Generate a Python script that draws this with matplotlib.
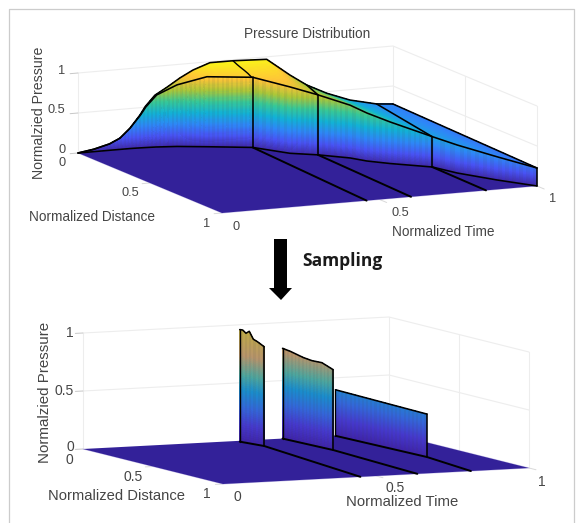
import numpy as np
import matplotlib
matplotlib.use("Agg")
import matplotlib.pyplot as plt
from matplotlib.colors import LinearSegmentedColormap
from matplotlib.lines import Line2D
from matplotlib.patches import Polygon
from matplotlib.transforms import Affine2D

plt.rcParams['font.family'] = ['Liberation Sans', 'DejaVu Sans']

# ---- Data: upper chart ----------------------------------------------------
front_t = [0, .05, .10, .133, .165, .197, .213, .245, .302, .379, .495, .556, .62, .685, .71, .755, .844, .872, .933, 1]
front_d = [0, 0, 0, 0, 0, .003, .005, .01, .027, .066, .13, .255, .31, .391, .453, .515, .613, .726, .87, 1]
front_z = [0, .03, .08, .14, .254, .41, .507, .65, .77, .875, .877, .83, .75, .66, .60, .52, .38, .35, .29, .225]
back_t = [0, .05, .10, .133, .165, .197, .213, .244, .282, .324, .365, .419, .492, .599, .673, .726, .79, .863, .948, 1]
back_z = [0, .03, .08, .14, .254, .41, .507, .64, .726, .83, .914, .988, .987, .969, .747, .605, .48, .371, .293, .275]
ruling_front_t = [0, .495, .62, .844, 1]
ruling_back_t = [0, .492, .726, .948, 1]
sample_front_t = [.495, .62, .844]
sample_front_d = [.13, .31, .613]
sample_front_z = [.877, .75, .38]
sample_back_t = [.492, .726, .948]
sample_back_z = [.987, .605, .293]
sample_end_t = [.459, .60, .838]
wavy_d = [0, .03, .05, .08, .105, .13]
wavy_z = [.987, .96, .945, .925, .905, .877]

# ---- Data: lower chart ----------------------------------------------------
wall1_d = [.02, .036, .054, .072, .094, .116, .153]
wall1_z = [.966, .967, .944, .966, .904, .889, .856]
wall2_d = [0, .052, .137, .194, .259, .333]
wall2_z = [.778, .767, .739, .729, .731, .693]
wall3_d = [0, .614]
wall3_z = [.397, .37]
wall_t_start = [.503, .652, .825]
wall_t_stop = [.522, .665, .843]
wall_end_t = [.449, .635, .81]

# ---- Labels ---------------------------------------------------------------
title = 'Pressure Distribution'
xlabel = 'Normalized Time'
ylabel = 'Normalized Distance'
zlabel = 'Normalzied Pressure'
annotation = 'Sampling'

# ---- Style ----------------------------------------------------------------
W, H = 581, 523
FLOOR = (0.20, 0.13, 0.60)
GRID = (0.93, 0.93, 0.93)
TEXT = (0.27, 0.27, 0.27)
parula = LinearSegmentedColormap.from_list('parula', [
    (0.2422, 0.1504, 0.6603), (0.2810, 0.3228, 0.9579), (0.1786, 0.5289, 0.9682),
    (0.0689, 0.6948, 0.8394), (0.2161, 0.7843, 0.5923), (0.6720, 0.7793, 0.2227),
    (0.9970, 0.7659, 0.2199), (0.9769, 0.9839, 0.0805)])
muted = LinearSegmentedColormap.from_list('muted', [
    (0, (0.24, 0.13, 0.65)), (.15, (0.27, 0.22, 0.80)), (.30, (0.20, 0.40, 0.85)),
    (.45, (0.10, 0.55, 0.80)), (.58, (0.30, 0.65, 0.62)), (.75, (0.72, 0.58, 0.42)),
    (1, (0.75, 0.68, 0.25))])

PX = Affine2D().scale(1, -1).translate(0, H)
fig = plt.figure(figsize=(W / 100, H / 100), dpi=100, facecolor='white')


def make_axes(origin, tvec, dvec, zscale):
    """3D axes with a parallel camera calibrated on the box corners (pixels)."""
    ax = fig.add_axes([0, (H - W) / 2 / H, 1, W / H], projection='3d')
    ax.set_axis_off()
    ax.patch.set_alpha(0)
    ax.computed_zorder = False
    cam = np.array([[tvec[0], dvec[0], 0, origin[0]],
                    [tvec[1], dvec[1], -zscale, origin[1]],
                    [0.2, -1, -0.3, -3],
                    [0, 0, 0, 1]], float)

    def get_proj():
        inv = ax.transData.inverted()
        p0, px, py = inv.transform(PX.transform([(0, 0), (1, 0), (0, 1)]))
        aff = np.eye(4)
        aff[0, :2] = px[0] - p0[0], py[0] - p0[0]
        aff[1, :2] = px[1] - p0[1], py[1] - p0[1]
        aff[0, 3], aff[1, 3] = p0
        return aff @ cam

    ax.get_proj = get_proj
    return ax


def line(ax, t, d, z, color='black', lw=1.15, zorder=10):
    ax.plot(t, d, z, color=color, lw=lw, zorder=zorder, solid_capstyle='round')


def box(ax):
    for z in (0.5, 1):
        line(ax, [0, 1, 1], [0, 0, 1], [z, z, z], GRID, .8, 0.5)
    for t, d in ((0, 0), (1, 0), (1, .5), (1, 1)):
        line(ax, [t, t], [d, d], [0, 1], GRID, .8, 0.5)
    for z in (0, .5, 1):
        line(ax, [0, -.025], [0, 0], [z, z], (.78, .78, .78), .7, 0.5)
    for d in (.5, 1):
        line(ax, [0, -.025], [d, d], [0, 0], (.85, .85, .85), .7, 0.5)
    for t in (.5, 1):
        line(ax, [t, t], [1, 1.05], [0, 0], (.85, .85, .85), .7, 0.5)
    line(ax, [0, 1, 1], [1, 1, 0], [0, 0, 0], (.8, .78, .92), .7, 0.6)
    line(ax, [0, 0], [0, 1], [0, 0], (.8, .78, .92), .7, 0.6)
    T, D = np.meshgrid([0, 1], [0, 1])
    s = ax.plot_surface(T, D, np.zeros_like(T, float), color=FLOOR, shade=False,
                        linewidth=0, antialiased=True)
    s.set_zorder(1)


def shaded(ax, T, D, Z, cmap, stripes, zorder):
    zc = (Z[:-1, :-1] + Z[1:, 1:] + Z[:-1, 1:] + Z[1:, :-1]) / 4
    rgba = cmap(np.clip(zc, 0, 1))
    if stripes:
        rgba[:, 1::2, :3] = rgba[:, 1::2, :3] * 0.92 + 0.02
    s = ax.plot_surface(T, D, Z, facecolors=rgba, shade=False, rstride=1, cstride=1,
                        linewidth=0, antialiased=False)
    s.set_zorder(zorder)


# ---- Upper chart -----------------------------------------------------------
ax1 = make_axes((78, 153), (315, -27), (144, 60), 80)
box(ax1)
u = np.linspace(0, 1, 171)          # mesh tessellation between the read points
tf = np.interp(u, front_t, front_t)
df = np.interp(u, front_t, front_d)
zf = np.interp(u, front_t, front_z)
tb = np.interp(u, ruling_front_t, ruling_back_t)
zb = np.interp(tb, back_t, back_z)
a = np.linspace(0, 1, 15)[:, None]
shaded(ax1, tb + (tf - tb) * a, df * a, zb + (zf - zb) * a, parula, False, 2)
a = np.linspace(0, 1, 61)[:, None]
shaded(ax1, tf + 0 * a, df + 0 * a, zf * a, parula, True, 3)

n = len(front_t)
line(ax1, front_t, front_d, np.zeros(n))
line(ax1, front_t, front_d, front_z)
line(ax1, back_t, np.zeros(len(back_t)), back_z)
line(ax1, [1, 1], [0, 1], [back_z[-1], front_z[-1]])
line(ax1, [1, 1], [1, 1], [0, front_z[-1]])
for i in range(3):
    line(ax1, [sample_front_t[i]] * 2, [sample_front_d[i]] * 2, [0, sample_front_z[i]])
    line(ax1, [sample_front_t[i], sample_end_t[i]], [sample_front_d[i], 1], [0, 0], lw=1.4)
    if i:
        line(ax1, [sample_back_t[i], sample_front_t[i]], [0, sample_front_d[i]],
             [sample_back_z[i], sample_front_z[i]])
line(ax1, np.full(len(wavy_d), sample_back_t[0]), wavy_d, wavy_z, lw=1.0)

# ---- Lower chart -----------------------------------------------------------
ax2 = make_axes((83, 449), (306, -16), (140, 35), 116)
box(ax2)
walls = [(wall1_d, wall1_z), (wall2_d, wall2_z), (wall3_d, wall3_z)]
col_counts = [13, 29, 45]
for i, (wd, wz) in enumerate(walls):
    s = np.linspace(wd[0], wd[-1], col_counts[i])
    f = (s - wd[0]) / (wd[-1] - wd[0])
    tw = wall_t_start[i] + (wall_t_stop[i] - wall_t_start[i]) * f
    zw = np.interp(s, wd, wz)
    a = np.linspace(0, 1, 51)[:, None]
    shaded(ax2, tw + 0 * a, s + 0 * a, zw * a, muted, True, 3)
    tedge = wall_t_start[i] + (wall_t_stop[i] - wall_t_start[i]) * (np.array(wd) - wd[0]) / (wd[-1] - wd[0])
    line(ax2, tedge, wd, wz)
    line(ax2, [wall_t_start[i]] * 2, [wd[0]] * 2, [0, wz[0]], lw=1.0)
    line(ax2, [wall_t_stop[i]] * 2, [wd[-1]] * 2, [0, wz[-1]])
    line(ax2, [wall_t_start[i], wall_t_stop[i], wall_end_t[i]], [wd[0], wd[-1], 1], [0, 0, 0], lw=1.4)

# ---- Text and decoration (pixel layout) ------------------------------------


def txt(x, y, s, size=10, color=TEXT, rotation=0, **kw):
    fig.text(x, y, s, fontsize=size, color=color, rotation=rotation, ha='center',
             va='center', transform=PX, **kw)


txt(307, 34, title, 9.8)
txt(39, 113, zlabel, 10.2, rotation=90)
txt(92, 217, ylabel, 9.8)
txt(443, 232, xlabel, 9.8)
for x, y, s in [(62, 71, '1'), (56, 110, '0.5'), (62, 150, '0'), (62, 163, '0'), (130, 193, '0.5'),
                (207, 224, '1'), (236, 227, '0'), (400, 213, '0.5'), (553, 199, '1')]:
    txt(x, y, s, 9.2)

txt(45, 392, zlabel, 10.9, rotation=90)
txt(116, 496, ylabel, 10.6)
txt(402, 502, xlabel, 10.7)
for x, y, s in [(70, 333, '1'), (64, 391, '0.5'), (70, 447, '0'), (69, 460, '0'), (133, 477, '0.5'),
                (207, 494, '1'), (237, 497, '0'), (395, 488, '0.5'), (542, 482, '1')]:
    txt(x, y, s, 10)

txt(342, 261, annotation, 12.5, color=(0.1, 0.1, 0.1), family='Open Sans', fontweight='bold')
fig.add_artist(Polygon([(274, 239), (287, 239), (287, 288), (292, 288), (281, 300), (269, 288), (274, 288)],
                       closed=True, facecolor='black', edgecolor='none', transform=PX))
fig.add_artist(Line2D([9, 9, 574, 574], [H, 9, 9, H], color=(0.8, 0.8, 0.8), lw=0.9, transform=PX))

fig.savefig('out.png', dpi=100)
